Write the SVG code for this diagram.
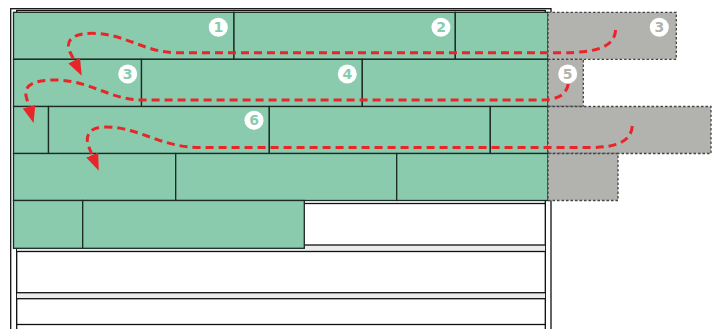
<svg xmlns="http://www.w3.org/2000/svg" width="721" height="329" viewBox="0 0 721 329">
<style>
.frame{fill:none;stroke:#111;stroke-width:1.3}
.board{fill:#fff;stroke:#111;stroke-width:1.3}
.gap{fill:#ececec;stroke:none}
.plank{fill:#8acbad;stroke:#1c2a23;stroke-width:1.3}
.ext{fill:#b2b2ae;stroke:#444;stroke-width:1.3;stroke-dasharray:2.5 2}
.badge{fill:#fff}
.num{font-family:"DejaVu Sans","Liberation Sans",sans-serif;font-weight:bold;font-size:14px;text-anchor:middle}
.ng{fill:#8acbad}
.nx{fill:#b2b2ae}
.route{fill:none;stroke:#e8262a;stroke-width:3;stroke-dasharray:8 5}
</style>
<defs>
<marker id="arr" markerUnits="userSpaceOnUse" markerWidth="17" markerHeight="13" refX="0" refY="6.5" orient="auto" viewBox="0 0 17 13">
<path d="M0,0 L17,6.5 L0,13 z" fill="#e8262a"/>
</marker>
</defs>
<g id="frame">
<rect class="frame" x="10.7" y="8.7" width="540.3" height="400"/>
<rect class="frame" x="16.7" y="10.5" width="528.6" height="400"/>
</g>
<g id="boards">
<rect class="gap" x="17" y="245" width="528" height="6.5"/>
<rect class="gap" x="17" y="292.7" width="528" height="6"/>
<rect class="board" x="16.7" y="203.5" width="528.6" height="41.5"/>
<rect class="board" x="16.7" y="251.5" width="528.6" height="41.2"/>
<rect class="board" x="16.7" y="298.7" width="528.6" height="25.8"/>
<rect class="board" x="16.7" y="330" width="528.6" height="40"/>
</g>
<g id="row1">
<rect class="plank" x="13.5" y="12.3" width="220.5" height="47"/>
<rect class="plank" x="234" y="12.3" width="221.3" height="47"/>
<rect class="plank" x="455.3" y="12.3" width="92.7" height="47"/>
<rect class="ext" x="548" y="12.3" width="128.3" height="47"/>
</g>
<g id="row2">
<rect class="plank" x="13.5" y="59.3" width="128" height="47.2"/>
<rect class="plank" x="141.5" y="59.3" width="220.8" height="47.2"/>
<rect class="plank" x="362.3" y="59.3" width="185.7" height="47.2"/>
<rect class="ext" x="548" y="59.3" width="35.3" height="47.2"/>
</g>
<g id="row3">
<rect class="plank" x="13.5" y="106.5" width="35" height="47"/>
<rect class="plank" x="48.5" y="106.5" width="220.8" height="47"/>
<rect class="plank" x="269.3" y="106.5" width="221" height="47"/>
<rect class="plank" x="490.3" y="106.5" width="57.7" height="47"/>
<rect class="ext" x="548" y="106.5" width="163" height="47"/>
</g>
<g id="row4">
<rect class="plank" x="13.5" y="153.5" width="162.2" height="47"/>
<rect class="plank" x="175.7" y="153.5" width="221" height="47"/>
<rect class="plank" x="396.7" y="153.5" width="151.3" height="47"/>
<rect class="ext" x="548" y="153.5" width="70" height="47"/>
</g>
<g id="row5">
<rect class="plank" x="13.5" y="200.5" width="69.2" height="47.8"/>
<rect class="plank" x="82.7" y="200.5" width="221.6" height="47.8"/>
</g>
<g id="connectors">
<path class="route" marker-end="url(#arr)" d="M615.7 30 C614 47 598 52.7 560 52.7 L176 52.7 C145 52.7 125 33.3 92 33.3 C68 33.3 66 44 70 52 L74.2 60.5"/>
<path class="route" marker-end="url(#arr)" d="M568.3 84 C566 96 556 100 540 100 L142 100 C110 100 90 80 55 80 C36 80 24 84 26 96 L29 106.7"/>
<path class="route" marker-end="url(#arr)" d="M632.3 126 C631 140 620 147.5 590 147.5 L200 147.5 C160 147.5 140 127 105 127 C92 127 85 133 88 145 L92.2 155"/>
</g>
<g id="badge1"><circle class="badge" cx="218.3" cy="27.3" r="9.5"/><text class="num ng" x="218.3" y="32.3">1</text></g>
<g id="badge2"><circle class="badge" cx="441" cy="27.3" r="9.5"/><text class="num ng" x="441" y="32.3">2</text></g>
<g id="badge3x"><circle class="badge" cx="659.3" cy="27.3" r="9.5"/><text class="num nx" x="659.3" y="32.3">3</text></g>
<g id="badge3"><circle class="badge" cx="127.7" cy="74" r="9.5"/><text class="num ng" x="127.7" y="79">3</text></g>
<g id="badge4"><circle class="badge" cx="347.3" cy="74" r="9.5"/><text class="num ng" x="347.3" y="79">4</text></g>
<g id="badge5"><circle class="badge" cx="567.7" cy="74" r="9.5"/><text class="num nx" x="567.7" y="79">5</text></g>
<g id="badge6"><circle class="badge" cx="254" cy="120.3" r="9.5"/><text class="num ng" x="254" y="125.3">6</text></g>
</svg>
